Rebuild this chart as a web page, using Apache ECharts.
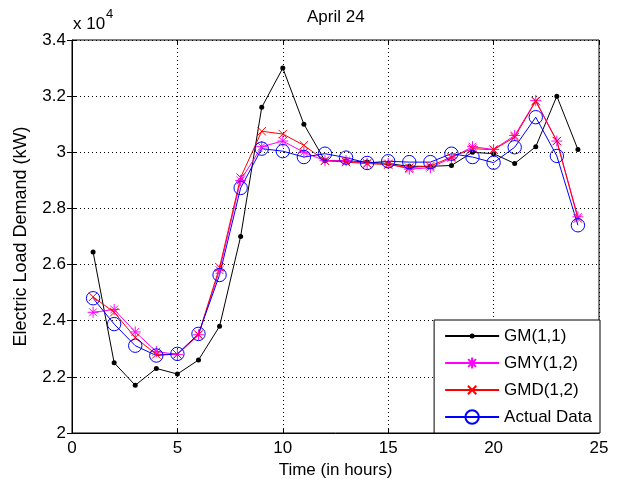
<!DOCTYPE html>
<html>
<head>
<meta charset="utf-8">
<script src="https://cdn.jsdelivr.net/npm/echarts@6/dist/echarts.min.js"></script>
<style>
html,body{margin:0;padding:0;background:#fff;}
#chart{width:619px;height:487px;}
</style>
</head>
<body>
<div id="chart"></div>
<script>
// ---- data (Electric load demand in kW) ----
var hours = [1,2,3,4,5,6,7,8,9,10,11,12,13,14,15,16,17,18,19,20,21,22,23,24];
var gm11 = [26450,22500,21700,22300,22100,22600,23800,27000,31600,33000,31000,29700,29700,29650,29600,29500,29500,29530,30000,29950,29600,30200,32000,30100];
var gmy12 = [24300,24400,23600,22900,22800,23500,25800,29000,30200,30400,30000,29700,29700,29600,29600,29400,29450,29800,30200,30100,30600,31840,30400,27700];
var gmd12 = [24850,24300,23400,22800,22800,23500,25900,29100,30750,30650,30250,29700,29650,29600,29560,29450,29510,29830,30130,30090,30540,31820,30400,27640];
var actual = [24800,23880,23110,22760,22820,23530,25630,28730,30130,30040,29830,29950,29810,29620,29680,29650,29650,29950,29830,29630,30180,31250,29870,27400];
var seriesNames = ['GM(1,1)','GMY(1,2)','GMD(1,2)','Actual Data'];
var xTicks = [0,5,10,15,20,25];
var yTicks = [20000,22000,24000,26000,28000,30000,32000,34000];

function pairs(vals){ return hours.map(function(h,i){ return [h, vals[i]]; }); }

var SANS = "'Liberation Sans',Arial,sans-serif";

// marker shapes drawn in a 16x16 box (M0,0 M16,16 fix the box size)
var symDot = 'path://M0,0M16,16M10.5,8A2.5,2.5,0,1,1,5.5,8A2.5,2.5,0,1,1,10.5,8Z';
var symStar = 'path://M0,0M16,16M2.5,8L13.5,8M8,2.5L8,13.5M4.1,4.1L11.9,11.9M11.9,4.1L4.1,11.9';
var symX = 'path://M0,0M16,16M3.8,3.8L12.2,12.2M12.2,3.8L3.8,12.2';
var symO = 'path://M0,0M16,16M14.7,8A6.7,6.7,0,1,1,1.3,8A6.7,6.7,0,1,1,14.7,8Z';

var chart = echarts.init(document.getElementById('chart'), null, {renderer:'canvas'});

function mk(name, vals, color, sym, filled){
  return {
    name: name, type: 'line', data: pairs(vals),
    symbol: sym, symbolSize: 16, showAllSymbol: true,
    color: color,
    lineStyle: {color: color, width: 1},
    itemStyle: filled ? {color: color, borderWidth: 0} : {color: 'rgba(0,0,0,0)', borderColor: color, borderWidth: 1},
    emphasis: {disabled: true},
    animation: false
  };
}

var option = {
  animation: false,
  backgroundColor: '#fff',
  title: {
    text: 'April 24', left: 307, top: 9, padding: 0,
    textStyle: {fontFamily: SANS, fontSize: 17, fontWeight: 'normal', color: '#000'}
  },
  grid: {left: 72, right: 20, top: 40, bottom: 54, show: true, borderColor: '#000', borderWidth: 1, backgroundColor: '#fff'},
  legend: {
    data: seriesNames, orient: 'vertical', right: 19, bottom: 54,
    itemWidth: 54, itemHeight: 20, itemGap: 7,
    padding: [6, 8, 6, 10],
    backgroundColor: '#fff', borderColor: '#000', borderWidth: 1,
    textStyle: {fontFamily: SANS, fontSize: 17, color: '#000', lineHeight: 20},
    selectedMode: false
  },
  xAxis: [{
    type: 'value', min: xTicks[0], max: xTicks[xTicks.length-1], interval: 5,
    name: 'Time (in hours)', nameLocation: 'middle', nameGap: 29,
    nameTextStyle: {fontFamily: SANS, fontSize: 17, color: '#000'},
    axisLine: {show: true, lineStyle: {color: '#000', width: 1}},
    axisTick: {show: true, inside: true, length: 5, lineStyle: {color: '#000'}},
    axisLabel: {margin: 7, fontFamily: SANS, fontSize: 17, color: '#000'},
    splitLine: {show: true, lineStyle: {color: '#000', width: 1, type: [1, 3]}}
  },{
    type: 'value', position: 'top', min: 0, max: 25, interval: 5,
    axisLine: {show: false},
    axisTick: {show: true, inside: true, length: 5, lineStyle: {color: '#000'}},
    axisLabel: {show: false}, splitLine: {show: false}
  }],
  yAxis: [{
    type: 'value', min: yTicks[0], max: yTicks[yTicks.length-1], interval: 2000,
    name: 'Electric Load Demand (kW)', nameLocation: 'middle', nameGap: 42,
    nameTextStyle: {fontFamily: SANS, fontSize: 18, color: '#000'},
    axisLine: {show: true, lineStyle: {color: '#000', width: 1}},
    axisTick: {show: true, inside: true, length: 5, lineStyle: {color: '#000'}},
    axisLabel: {margin: 6, fontFamily: SANS, fontSize: 17, color: '#000',
      formatter: function(v){ return String(+(v/10000).toFixed(1)); }},
    splitLine: {show: true, lineStyle: {color: '#000', width: 1, type: [1, 3]}}
  },{
    type: 'value', position: 'right', min: 20000, max: 34000, interval: 2000,
    axisLine: {show: false},
    axisTick: {show: true, inside: true, length: 5, lineStyle: {color: '#000'}},
    axisLabel: {show: false}, splitLine: {show: false}
  }],
  graphic: [
    {type: 'text', left: 73, top: 16, style: {text: 'x 10', font: '17px ' + SANS, fill: '#000'}},
    {type: 'text', left: 106, top: 8, style: {text: '4', font: '13px ' + SANS, fill: '#000'}}
  ],
  series: [
    mk(seriesNames[0], gm11, '#000000', symDot, true),
    mk(seriesNames[1], gmy12, '#ff00ff', symStar, false),
    mk(seriesNames[2], gmd12, '#ff0000', symX, false),
    mk(seriesNames[3], actual, '#0000ff', symO, false)
  ]
};
chart.setOption(option);
</script>
</body>
</html>
